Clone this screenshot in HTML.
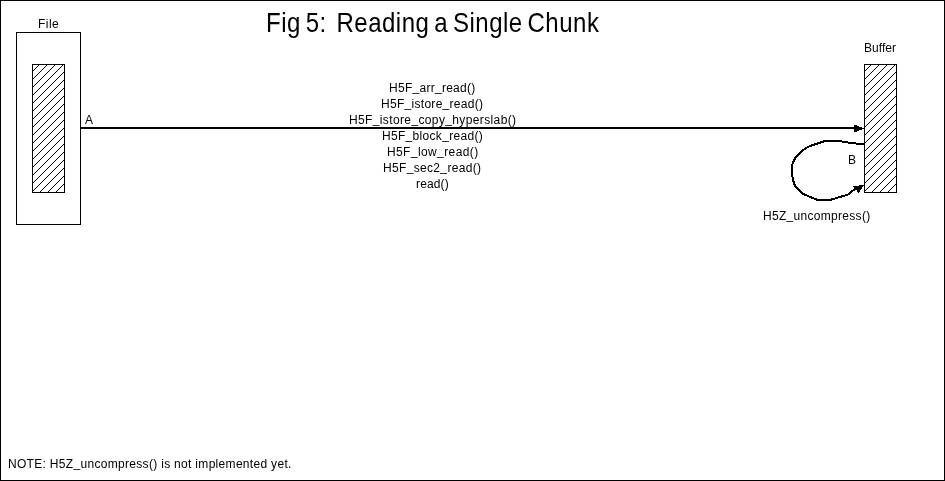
<!DOCTYPE html>
<html><head><meta charset="utf-8"><title>Fig 5: Reading a Single Chunk</title>
<style>
html,body{margin:0;padding:0;background:#fff;}
body{width:945px;height:481px;position:relative;overflow:hidden;font-family:"Liberation Sans",sans-serif;color:#000;}
svg{position:absolute;left:0;top:0;}
.t{position:absolute;white-space:pre;font-size:12px;line-height:14px;will-change:transform;}
.c{transform:translateX(-50%);}
.u{position:relative;top:-1px;}
#title{font-size:24px;line-height:28px;transform:scaleY(1.12);transform-origin:0 0;}
</style></head><body>
<svg width="945" height="481" viewBox="0 0 945 481">
<defs>
<pattern id="h" x="0" y="0" width="8" height="8" patternUnits="userSpaceOnUse"><g fill="#000" shape-rendering="crispEdges"><rect x="7" y="0" width="1" height="1"/><rect x="6" y="1" width="1" height="1"/><rect x="5" y="2" width="1" height="1"/><rect x="4" y="3" width="1" height="1"/><rect x="3" y="4" width="1" height="1"/><rect x="2" y="5" width="1" height="1"/><rect x="1" y="6" width="1" height="1"/><rect x="0" y="7" width="1" height="1"/></g></pattern>
</defs>
<g shape-rendering="crispEdges" fill="none" stroke="#000" stroke-width="1">
<rect x="0.5" y="0.5" width="944" height="480"/>
<rect x="16.5" y="32.5" width="64" height="192"/>
<rect x="32.5" y="64.5" width="32" height="128" fill="url(#h)"/>
<rect x="864.5" y="64.5" width="32" height="128" fill="url(#h)"/>
<line x1="81" y1="128" x2="854" y2="128" stroke-width="2"/>
</g>
<g fill="#000" shape-rendering="crispEdges">
<rect x="854" y="125" width="3" height="7"/>
<rect x="857" y="126" width="2" height="5"/>
<rect x="859" y="127" width="3" height="3"/>
<rect x="862" y="128" width="2" height="1"/>
</g>
<path d="M864 144 L856 143.5 L848 142.5 L840 141.2 L825 141 L809 146.4 L803.6 149.7 L795.6 157.1 L792 165 L792 174.5 L793 180 L795 185.8 L802.5 193.7 L817.5 200 L830 200 L848 194.6 L856 188" fill="none" stroke="#000" stroke-width="2" stroke-linejoin="round" shape-rendering="crispEdges"/>
<polygon points="864,185 853,186 858.5,193" fill="#000" shape-rendering="crispEdges"/>
</svg>
<div class="t" id="title" style="left:265.8px;top:7.1px;letter-spacing:0.5px;word-spacing:-2.3px;">Fig 5:  Reading a Single Chunk</div>
<div class="t" id="file" style="left:37.7px;top:17px;letter-spacing:0.45px;">File</div>
<div class="t" id="buffer" style="left:863.8px;top:41px;letter-spacing:0.05px;">Buffer</div>
<div class="t" id="a" style="left:84.5px;top:113px;">A</div>
<div class="t" id="b" style="left:848px;top:153px;">B</div>
<div class="t" id="l1" style="left:388.5px;top:81px;letter-spacing:0.27px;">H5F<span class="u">_</span>arr<span class="u">_</span>read()</div>
<div class="t" id="l2" style="left:380.5px;top:97px;letter-spacing:0.29px;">H5F<span class="u">_</span>istore<span class="u">_</span>read()</div>
<div class="t" id="l3" style="left:348.5px;top:113px;letter-spacing:0.37px;">H5F<span class="u">_</span>istore<span class="u">_</span>copy<span class="u">_</span>hyperslab()</div>
<div class="t" id="l4" style="left:381.5px;top:129px;letter-spacing:0.31px;">H5F<span class="u">_</span>block<span class="u">_</span>read()</div>
<div class="t" id="l5" style="left:386.5px;top:145px;letter-spacing:0.39px;">H5F<span class="u">_</span>low<span class="u">_</span>read()</div>
<div class="t" id="l6" style="left:382.5px;top:161px;letter-spacing:0.33px;">H5F<span class="u">_</span>sec2<span class="u">_</span>read()</div>
<div class="t" id="l7" style="left:416.3px;top:177px;letter-spacing:0.15px;">read()</div>
<div class="t" id="unc" style="left:762.8px;top:209px;letter-spacing:0.3px;">H5Z<span class="u">_</span>uncompress()</div>
<div class="t" id="note" style="left:7.6px;top:457px;letter-spacing:0.31px;">NOTE: H5Z<span class="u">_</span>uncompress() is not implemented yet.</div>
</body></html>
